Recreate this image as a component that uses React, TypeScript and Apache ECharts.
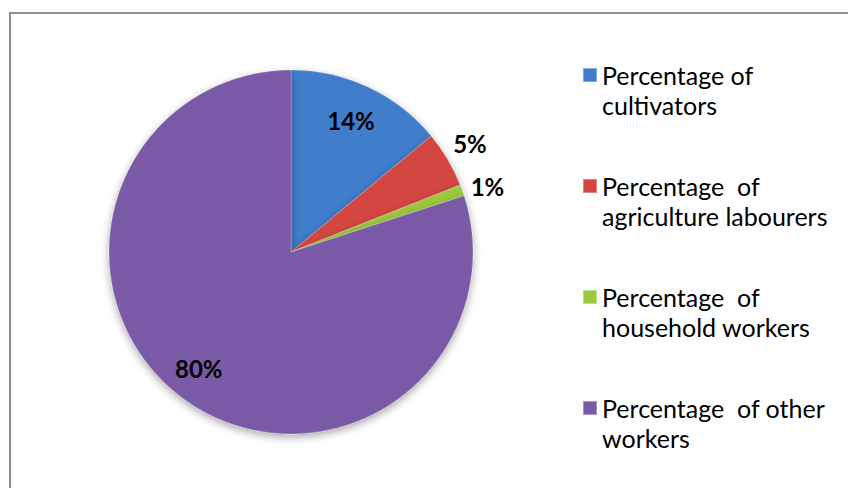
import React, { useEffect, useRef } from "react";
import * as echarts from "echarts";

const categories = [
  "Percentage of\ncultivators",
  "Percentage  of\nagriculture labourers",
  "Percentage  of\nhousehold workers",
  "Percentage  of other\nworkers",
];
const values = [14, 5, 1, 80];
const colors = ["#3F7DCB", "#D4463F", "#9CC83E", "#7A5AA6"];

// label placement tweaks (style only)
const labelTweaks = [
  { position: "inside", dx: 20, dy: -46, len: 0, len2: 0 },
  { position: "outside", dx: 0, dy: 0, len: 32, len2: -27 },
  { position: "outside", dx: 0, dy: 0, len: 10, len2: -6 },
  { position: "inside", dx: -37, dy: 40, len: 0, len2: 0 },
];

const labelFont = {
  fontFamily: "Lato",
  fontWeight: "bold",
  fontSize: 24,
  color: "#000000",
};

export default function App() {
  const ref = useRef<HTMLDivElement>(null);
  useEffect(() => {
    if (!ref.current) return;
    const chart = echarts.init(ref.current, null, { renderer: "svg" });
    chart.setOption({
      animation: false,
      backgroundColor: "#ffffff",
      graphic: [
        {
          type: "rect",
          shape: { x: 10, y: 13, width: 1000, height: 1000 },
          style: { fill: "none", stroke: "#8e8e8e", lineWidth: 2 },
          silent: true,
        },
      ],
      legend: {
        orient: "vertical",
        left: 582,
        top: 30,
        padding: 0,
        itemWidth: 14,
        itemHeight: 14,
        itemGap: 21,
        icon: "rect",
        formatter: (name: string) => "\n" + name,
        textStyle: {
          fontFamily: "Lato",
          fontSize: 25,
          lineHeight: 30,
          color: "#000000",
        },
        data: categories,
      },
      series: [
        {
          type: "pie",
          center: [291, 252],
          radius: 182,
          startAngle: 90,
          clockwise: true,
          avoidLabelOverlap: false,
          labelLine: { show: false, length: 0, length2: 0 },
          itemStyle: {
            borderColor: "rgba(255,255,255,0.35)",
            borderWidth: 0.6,
            shadowBlur: 8,
            shadowColor: "rgba(0,0,0,0.35)",
            shadowOffsetY: 3,
          },
          label: {
            ...labelFont,
            distanceToLabelLine: 5,
          },
          data: values.map((v, i) => {
            const t = labelTweaks[i];
            const gap = Math.abs(t.dy) * 2;
            const fmt =
              t.dy === 0
                ? "{v|{c}%}"
                : t.dy < 0
                ? "{v|{c}%}\n{g| }"
                : "{g| }\n{v|{c}%}";
            return {
              value: v,
              name: categories[i],
              itemStyle: { color: colors[i] },
              labelLine: { show: false, length: t.len, length2: t.len2 },
              label: {
                position: t.position,
                formatter: fmt,
                padding: [
                  0,
                  t.dx < 0 ? -t.dx * 2 : 0,
                  0,
                  t.dx > 0 ? t.dx * 2 : 0,
                ],
                rich: {
                  v: { ...labelFont, lineHeight: 28 },
                  g: { fontSize: 1, lineHeight: gap || 1, height: gap || 1 },
                },
              },
            };
          }),
        },
      ],
    });
    return () => chart.dispose();
  }, []);
  return (
    <div
      ref={ref}
      style={{ position: "absolute", left: 0, top: 0, width: 848, height: 488 }}
    />
  );
}
